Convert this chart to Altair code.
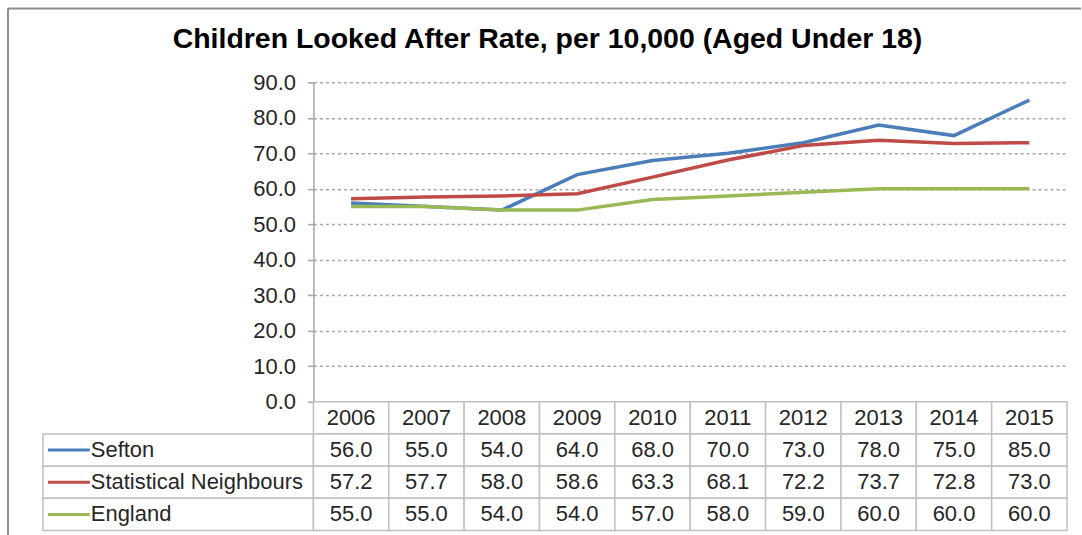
import altair as alt
import pandas as pd

years = ["2006", "2007", "2008", "2009", "2010", "2011", "2012", "2013", "2014", "2015"]
series_names = ["Sefton", "Statistical Neighbours", "England"]
sefton = [56.0, 55.0, 54.0, 64.0, 68.0, 70.0, 73.0, 78.0, 75.0, 85.0]
stat_neigh = [57.2, 57.7, 58.0, 58.6, 63.3, 68.1, 72.2, 73.7, 72.8, 73.0]
england = [55.0, 55.0, 54.0, 54.0, 57.0, 58.0, 59.0, 60.0, 60.0, 60.0]
colors = ["#4A7EBB", "#BE4B48", "#98B954"]
y_ticks = [0, 10, 20, 30, 40, 50, 60, 70, 80, 90]
title = "Children Looked After Rate, per 10,000 (Aged Under 18)"

values = [sefton, stat_neigh, england]
rows = ["year"] + series_names

long = pd.DataFrame(
    [{"year": y, "series": s, "value": v}
     for s, vals in zip(series_names, values) for y, v in zip(years, vals)]
)

table = pd.DataFrame(
    [{"year": y, "row": "year", "label": y} for y in years]
    + [{"year": y, "row": s, "label": f"{v:.1f}"}
       for s, vals in zip(series_names, values) for y, v in zip(years, vals)]
)
labels_df = pd.DataFrame({"row": series_names, "series": series_names})

FONT = "Liberation Sans"
GRID = "#a6a6a6"
BORDER = "#c0c0c0"
TXT = "#262626"
PW, PH = 755, 320
LW = 271
TH = 129
FS = 22

color_scale = alt.Scale(domain=series_names, range=colors)

# frame (decorative border) drawn from the blank top-left cell
one = pd.DataFrame({"a": [0]})
frame_top = alt.Chart(one).mark_rule(color="#8c8c8c", strokeWidth=2).encode(
    x=alt.value(-35), x2=alt.value(1040), y=alt.value(-74)
)
frame_left = alt.Chart(one).mark_rule(color="#8c8c8c", strokeWidth=2).encode(
    x=alt.value(-35), y=alt.value(-74), y2=alt.value(454)
)
blank = alt.layer(frame_top, frame_left).properties(width=LW, height=PH)

lines = alt.Chart(long).mark_line(strokeWidth=3.5).encode(
    x=alt.X("year:O", scale=alt.Scale(type="point", padding=0.5, domain=years), axis=None),
    y=alt.Y("value:Q", scale=alt.Scale(domain=[0, 90], nice=False),
            axis=alt.Axis(values=y_ticks, format=".1f", title=None,
                          labelFont=FONT, labelFontSize=FS, labelColor=TXT, labelPadding=12,
                          tickSize=6, tickColor=GRID, tickWidth=1.5,
                          domainColor=GRID, domainWidth=1.5,
                          grid=True, gridColor=GRID, gridDash=[3, 3], gridWidth=1.5)),
    color=alt.Color("series:N", scale=color_scale, legend=None),
    order=alt.Order("year:O"),
).properties(width=PW, height=PH)

row_scale = alt.Scale(domain=rows, paddingInner=0, paddingOuter=0)

label_base = alt.Chart(labels_df)
label_cells = label_base.mark_rect(fill="white", stroke=BORDER, strokeWidth=1.5).encode(
    x=alt.value(0), x2=alt.value(LW),
    y=alt.Y("row:N", scale=row_scale, axis=None),
)
label_icons = label_base.mark_rule(strokeWidth=3).encode(
    x=alt.value(5), x2=alt.value(47),
    y=alt.Y("row:N", scale=row_scale, axis=None, bandPosition=0.5),
    color=alt.Color("series:N", scale=color_scale, legend=None),
)
label_text = label_base.mark_text(align="left", baseline="middle", font=FONT, fontSize=FS, color=TXT).encode(
    x=alt.value(48),
    y=alt.Y("row:N", scale=row_scale, axis=None, bandPosition=0.5),
    text="row:N",
)
labels = alt.layer(label_cells, label_icons, label_text).properties(width=LW, height=TH)

tbase = alt.Chart(table)
t_cells = tbase.mark_rect(fill="white", stroke=BORDER, strokeWidth=1.5).encode(
    x=alt.X("year:O", scale=alt.Scale(domain=years, paddingInner=0, paddingOuter=0), axis=None),
    y=alt.Y("row:N", scale=row_scale, axis=None),
)
t_text = tbase.mark_text(align="center", baseline="middle", font=FONT, fontSize=FS, color=TXT).encode(
    x=alt.X("year:O", scale=alt.Scale(domain=years, paddingInner=0, paddingOuter=0), axis=None, bandPosition=0.5),
    y=alt.Y("row:N", scale=row_scale, axis=None, bandPosition=0.5),
    text="label:N",
)
vals = alt.layer(t_cells, t_text).properties(width=PW, height=TH)

chart = alt.concat(
    blank, lines, labels, vals, columns=2, spacing=0, bounds="flush",
).properties(
    title=alt.TitleParams(title, font=FONT, fontSize=28.5, fontWeight="bold", color="black",
                          anchor="middle", dx=3, offset=-46),
    padding={"left": 7, "top": 7, "right": 0, "bottom": 0},
    background="white",
).configure_view(stroke=None)

chart.save("out.html", embed_options={"renderer": "svg", "actions": False})
